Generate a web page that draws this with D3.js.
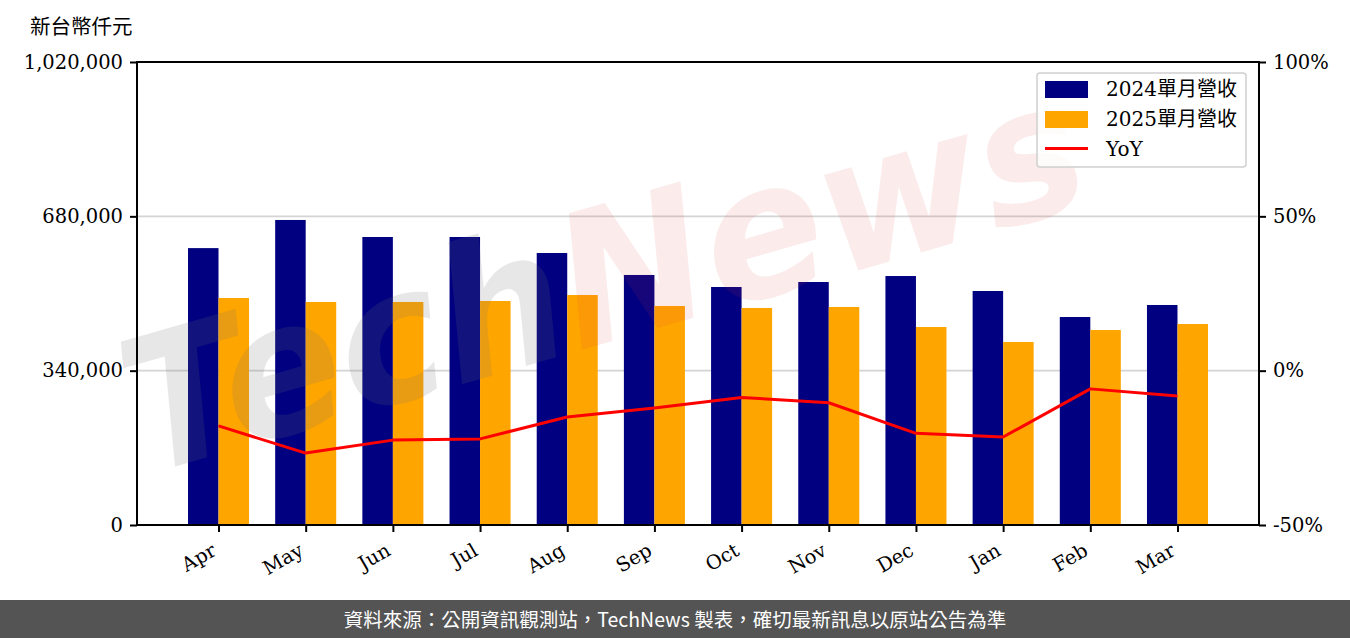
<!DOCTYPE html>
<html>
<head>
<meta charset="utf-8">
<script src="https://cdn.jsdelivr.net/npm/d3@7"></script>
<style>
  html, body { margin: 0; padding: 0; background: #fff; }
  svg { display: block; }
</style>
</head>
<body>
<svg id="chart" width="1350" height="638"></svg>
<script>
const months = ["Apr","May","Jun","Jul","Aug","Sep","Oct","Nov","Dec","Jan","Feb","Mar"];
const rev2024 = [610000, 672000, 634500, 634500, 599200, 550800, 524300, 535300, 548500, 515500, 458200, 484700];
const rev2025 = [500100, 491300, 491300, 493500, 506700, 482500, 478100, 480300, 436200, 403200, 429600, 442800];
const yoy = [-17.9, -26.7, -22.5, -22.1, -15.0, -12.1, -8.7, -10.4, -20.3, -21.5, -5.9, -8.2];
const leftTicks = [0, 340000, 680000, 1020000];
const rightTicks = [-50, 0, 50, 100];
const seriesNames = ["2024單月營收", "2025單月營收", "YoY"];
const colors = ["#000080", "#FFA500", "#FF0000"];

const svg = d3.select("#chart");
const L = 137, R = 1259, T = 62, B = 525;
const serif = "'DejaVu Serif', serif";
const barW = 0.35;

const x = d3.scaleLinear().domain([-0.935, 11.935]).range([L, R]);
const y = d3.scaleLinear().domain([0, 1020000]).range([B, T]);
const y2 = d3.scaleLinear().domain([-50, 100]).range([B, T]);

// gridlines
svg.append("g").selectAll("line").data([340000, 680000]).join("line")
  .attr("x1", L).attr("x2", R)
  .attr("y1", d => y(d)).attr("y2", d => y(d))
  .attr("stroke", "#d4d4d4").attr("stroke-width", 1.6);

// bars
const bars = svg.append("g");
bars.selectAll("rect.a").data(rev2024).join("rect").attr("class", "a")
  .attr("x", (d, i) => x(i - barW)).attr("width", x(barW) - x(0))
  .attr("y", d => y(d)).attr("height", d => B - y(d)).attr("fill", colors[0]);
bars.selectAll("rect.b").data(rev2025).join("rect").attr("class", "b")
  .attr("x", (d, i) => x(i)).attr("width", x(barW) - x(0))
  .attr("y", d => y(d)).attr("height", d => B - y(d)).attr("fill", colors[1]);

// watermark
const wm = svg.append("g").attr("transform", "translate(145,475) rotate(-16)");
const wmText = wm.append("text")
  .attr("font-family", "'DejaVu Sans', sans-serif")
  .attr("font-style", "italic").attr("font-weight", "bold")
  .attr("font-size", 185).attr("x", 0).attr("y", 0)
  .attr("textLength", 990).attr("lengthAdjust", "spacingAndGlyphs");
wmText.append("tspan").text("Tech").attr("fill", "rgba(110,110,110,0.17)");
wmText.append("tspan").text("News").attr("fill", "rgba(215,60,60,0.10)");

// YoY line
const line = d3.line().x((d, i) => x(i)).y(d => y2(d));
svg.append("path").datum(yoy).attr("d", line)
  .attr("fill", "none").attr("stroke", colors[2]).attr("stroke-width", 3)
  .attr("stroke-linejoin", "round");

// axes
function styleAxis(g) {
  g.selectAll(".domain").remove();
  g.selectAll(".tick line").attr("stroke", "#000").attr("stroke-width", 2);
  g.selectAll(".tick text").attr("font-family", serif).attr("font-size", 19.5).attr("fill", "#000");
}
const fmt = d3.format(",");
svg.append("g").attr("transform", `translate(${L},0)`)
  .call(d3.axisLeft(y).tickValues(leftTicks).tickFormat(d => fmt(d)).tickSize(7).tickPadding(7))
  .call(styleAxis);
svg.append("g").attr("transform", `translate(${R},0)`)
  .call(d3.axisRight(y2).tickValues(rightTicks).tickFormat(d => d + "%").tickSize(7).tickPadding(7))
  .call(styleAxis);
const xAxis = svg.append("g").attr("transform", `translate(0,${B})`)
  .call(d3.axisBottom(x).tickValues(d3.range(months.length)).tickFormat(i => months[i]).tickSize(7).tickPadding(6))
  .call(styleAxis);
xAxis.selectAll(".tick text")
  .attr("text-anchor", "end").attr("dy", 0).attr("dx", 0)
  .attr("transform", "translate(-8,18) rotate(-30)");

// frame
svg.append("rect").attr("x", L).attr("y", T).attr("width", R - L).attr("height", B - T)
  .attr("fill", "none").attr("stroke", "#000").attr("stroke-width", 2);

// y-axis unit label
svg.append("text").attr("x", 30).attr("y", 34).text("新台幣仟元")
  .attr("font-family", "'Noto Sans CJK TC', sans-serif").attr("font-size", 20.5).attr("fill", "#000");

// legend
const lg = svg.append("g").attr("transform", "translate(1037,73)");
lg.append("rect").attr("width", 209).attr("height", 94).attr("rx", 3)
  .attr("fill", "rgba(255,255,255,0.8)").attr("stroke", "#d0d0d0").attr("stroke-width", 1.5);
[0, 1].forEach(i => {
  lg.append("rect").attr("x", 8).attr("y", 8 + i * 30).attr("width", 43).attr("height", 17).attr("fill", colors[i]);
});
lg.append("line").attr("x1", 8).attr("x2", 51).attr("y1", 75.5).attr("y2", 75.5)
  .attr("stroke", colors[2]).attr("stroke-width", 3);
seriesNames.forEach((s, i) => {
  lg.append("text").attr("x", 69).attr("y", 23 + i * 30).text(s)
    .attr("font-family", serif + ", 'Noto Sans CJK TC'").attr("font-size", 20).attr("fill", "#000");
});

// footer
svg.append("rect").attr("x", 0).attr("y", 600).attr("width", 1350).attr("height", 38).attr("fill", "#545454");
svg.append("text").attr("x", 675).attr("y", 627).attr("text-anchor", "middle")
  .text("資料來源：公開資訊觀測站，TechNews 製表，確切最新訊息以原站公告為準")
  .attr("font-family", "'Noto Sans CJK TC', sans-serif").attr("font-size", 19.5).attr("fill", "#fff");
</script>
</body>
</html>
